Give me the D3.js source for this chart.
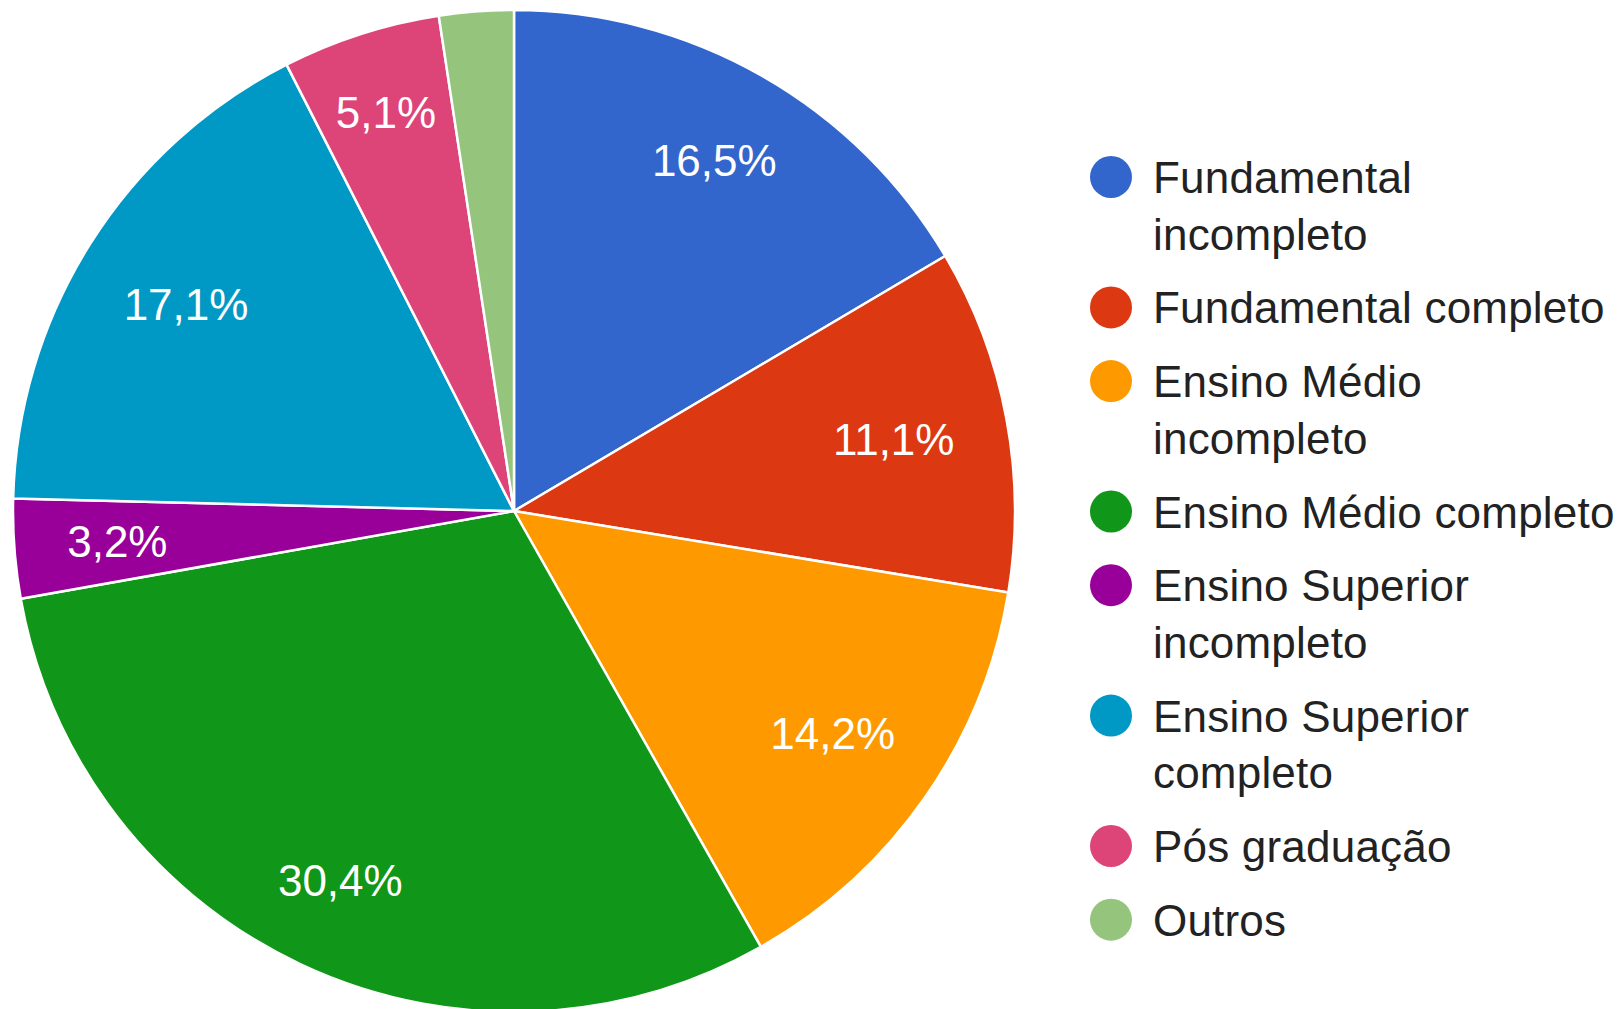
<!DOCTYPE html>
<html>
<head>
<meta charset="utf-8">
<script src="https://cdn.jsdelivr.net/npm/d3@7"></script>
<style>
  html, body { margin: 0; padding: 0; background: #ffffff; }
  svg { display: block; }
  text { font-family: "Liberation Sans", Arial, sans-serif; }
</style>
</head>
<body>
<svg id="chart" width="1619" height="1009"></svg>
<script>
const categories = [
  "Fundamental incompleto",
  "Fundamental completo",
  "Ensino Médio incompleto",
  "Ensino Médio completo",
  "Ensino Superior incompleto",
  "Ensino Superior completo",
  "Pós graduação",
  "Outros"
];
const values = [16.5, 11.1, 14.2, 30.4, 3.2, 17.1, 5.1, 2.4];
const valueLabels = ["16,5%", "11,1%", "14,2%", "30,4%", "3,2%", "17,1%", "5,1%", ""];
const colors = ["#3366cc", "#dc3912", "#ff9900", "#109618", "#990099", "#0099c6", "#dd4477", "#95c47d"];

const W = 1619, H = 1009;
const cx = 514, cy = 511, R = 501;
const labelOuter = 449;   // outer corner of label box sits at this radius
const fontSize = 44;
const halfH = 16;

const svg = d3.select("#chart");
const data = categories.map((c, i) => ({ name: c, value: values[i], label: valueLabels[i], color: colors[i] }));

const pie = d3.pie().value(d => d.value).sort(null);
const arcs = pie(data);
const arc = d3.arc().innerRadius(0).outerRadius(R);

const g = svg.append("g").attr("transform", `translate(${cx},${cy})`);

g.selectAll("path.slice")
  .data(arcs)
  .join("path")
  .attr("class", "slice")
  .attr("d", arc)
  .attr("fill", d => d.data.color)
  .attr("stroke", "#ffffff")
  .attr("stroke-width", 2.5)
  .attr("stroke-linejoin", "round");

const pct = g.selectAll("text.pct")
  .data(arcs.filter(d => d.data.label))
  .join("text")
  .attr("class", "pct")
  .attr("text-anchor", "middle")
  .attr("fill", "#ffffff")
  .attr("font-size", fontSize)
  .text(d => d.data.label);

pct.each(function(d) {
  const halfW = this.getComputedTextLength() / 2;
  const a = (d.startAngle + d.endAngle) / 2;
  const s = Math.sin(a), c = Math.cos(a);
  const r = labelOuter - (halfW * Math.abs(s) + halfH * Math.abs(c));
  d3.select(this)
    .attr("x", r * s)
    .attr("y", -r * c + 0.355 * fontSize);
});

// Legend
const legX = 1111, legTextX = 1153, legR = 21;
const lineH = 56.7, gap = 73.7;
const maxW = 462;
const legend = svg.append("g");
let baseY = 193;

data.forEach((d, i) => {
  const item = legend.append("g");
  item.append("circle")
    .attr("cx", legX)
    .attr("cy", baseY - 16)
    .attr("r", legR)
    .attr("fill", d.color);
  const words = d.name.split(" ");
  const lines = [];
  let cur = "";
  const probe = item.append("text").attr("font-size", fontSize).attr("letter-spacing", 0.2);
  words.forEach(w => {
    const test = cur ? cur + " " + w : w;
    probe.text(test);
    if (cur && probe.node().getComputedTextLength() > maxW) {
      lines.push(cur);
      cur = w;
    } else {
      cur = test;
    }
  });
  if (cur) lines.push(cur);
  probe.remove();
  lines.forEach((ln, k) => {
    item.append("text")
      .attr("x", legTextX)
      .attr("y", baseY + k * lineH)
      .attr("font-size", fontSize)
      .attr("letter-spacing", 0.2)
      .attr("fill", "#222222")
      .text(ln);
  });
  baseY += (lines.length - 1) * lineH + gap;
});
</script>
</body>
</html>
